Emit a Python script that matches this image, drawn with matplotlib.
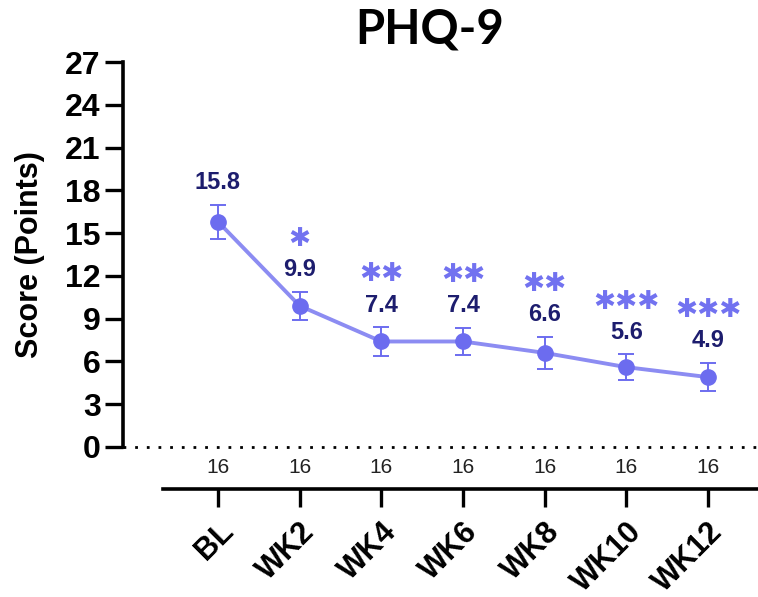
import numpy as np
import matplotlib.pyplot as plt

visits = ["BL", "WK2", "WK4", "WK6", "WK8", "WK10", "WK12"]
means = [15.8, 9.9, 7.4, 7.4, 6.6, 5.6, 4.9]
sem = [1.2, 1.0, 1.0, 0.95, 1.1, 0.9, 1.0]
n_subjects = [16, 16, 16, 16, 16, 16, 16]
stars = ["", "✱", "✱✱", "✱✱", "✱✱", "✱✱✱", "✱✱✱"]
yticks = [0, 3, 6, 9, 12, 15, 18, 21, 24, 27]

LINE = "#8c8cf2"
DOT = "#6c6cef"
NAVY = "#1d1d6e"
STAR = "#7272f0"
FONT = "Liberation Sans"

W, H = 758, 597
fig = plt.figure(figsize=(W / 100, H / 100), dpi=100)
ax = fig.add_axes([123 / W, 150 / H, (W - 123) / W, 385 / H])

x = np.arange(len(visits))
ax.plot(x, means, color=LINE, lw=2.8, zorder=2)
ax.errorbar(x, means, yerr=sem, fmt="none", ecolor=DOT, elinewidth=1.4,
            capsize=6, capthick=1.4, zorder=3)
ax.plot(x, means, "o", color=DOT, ms=11, zorder=4)

for xi, m, s, st in zip(x, means, sem, stars):
    ax.annotate(f"{m:.1f}", (xi, m + s), xytext=(0, 16), textcoords="offset points",
                ha="center", va="center", fontsize=17, fontweight="bold",
                color=NAVY, family=FONT)
    if st:
        ax.annotate(st, (xi, m + s), xytext=(0, 38), textcoords="offset points",
                    ha="center", va="center", fontsize=19, color=STAR,
                    family="DejaVu Sans")

for xi, nv in zip(x, n_subjects):
    ax.text(xi, -1.45, str(nv), ha="center", va="center", fontsize=15, family=FONT,
            color="#222222", clip_on=False)

# dotted zero line
ax.axhline(0, color="black", lw=2, ls=(0, (1, 3.2)), clip_on=False, zorder=1)

for side in ("top", "right"):
    ax.spines[side].set_visible(False)
ax.spines["left"].set_linewidth(2.6)
ax.spines["bottom"].set_linewidth(2.6)
ax.spines["bottom"].set_position(("outward", 30))
ax.spines["bottom"].set_bounds(-0.673, 6.612)

ax.set_xlim(-1.163, 6.612)
ax.set_ylim(0, 27)
ax.set_yticks(yticks)
ax.set_xticks(x)
ax.set_xticklabels(visits, rotation=45, ha="right", rotation_mode="anchor",
                   fontsize=22, fontweight="bold", family=FONT)
for lab in ax.get_yticklabels():
    lab.set_fontsize(23); lab.set_fontweight("bold"); lab.set_family(FONT)
ax.tick_params(axis="y", direction="out", length=13, width=2.4, pad=3)
ax.tick_params(axis="x", direction="out", length=13, width=2.4, pad=7)

fig.text(30 / W, 1 - 255 / H, "Score (Points)", rotation=90, ha="center", va="center",
         fontsize=22, fontweight="bold", family=FONT)
fig.text(430 / W, 1 - 30 / H, "PHQ-9", ha="center", va="center",
         fontsize=34, fontweight="bold", family="Lato")

fig.savefig("out.png", dpi=100)
